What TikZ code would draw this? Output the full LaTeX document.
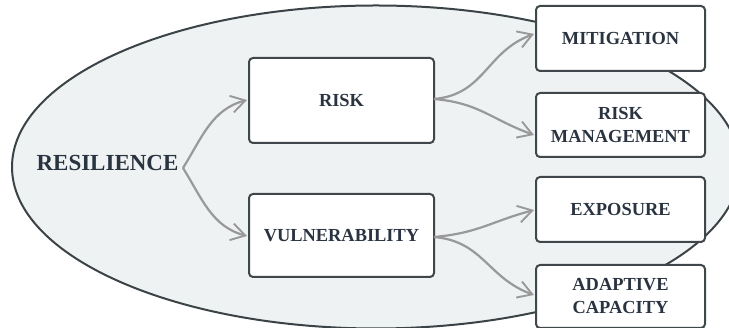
\documentclass[tikz,border=0pt]{standalone}
\usepackage{fontspec}
\setmainfont{Liberation Serif}
\usetikzlibrary{arrows.meta}
\definecolor{ovalfill}{HTML}{EEF2F3}
\definecolor{ovaledge}{HTML}{3B4347}
\definecolor{boxedge}{HTML}{40474B}
\definecolor{labeltext}{HTML}{2A3340}
\definecolor{flowgray}{HTML}{999999}
\tikzset{
  conceptbox/.style={draw=boxedge, line width=2pt, fill=white, rounded corners=4pt,
    align=center, inner sep=0pt, text=labeltext,
    font=\fontsize{18.4}{23}\selectfont\bfseries},
  flow/.style={draw=flowgray, line width=2.2pt,
    -{Straight Barb[length=14pt,width=17pt,line width=1.9pt]}},
}
\begin{document}
\begin{tikzpicture}[x=1pt,y=1pt]
  \useasboundingbox (0,0) rectangle (729,328);
  \clip (0,0) rectangle (729,328);
  % background oval
  \draw[fill=ovalfill, draw=ovaledge, line width=2pt] (376,161) ellipse [x radius=364, y radius=161.5];

  % central concept
  \node[text=labeltext, font=\fontsize{23}{27}\selectfont\bfseries] (res) at (107.5,165) {RESILIENCE};

  % first level boxes
  \node[conceptbox, minimum width=185pt, minimum height=85pt] (risk) at (341.5,227.5) {RISK};
  \node[conceptbox, minimum width=185pt, minimum height=83pt] (vul) at (341.5,92.5) {VULNERABILITY};

  % second level boxes
  \node[conceptbox, minimum width=169pt, minimum height=65pt] (mit) at (620.5,289.5) {MITIGATION};
  \node[conceptbox, minimum width=169pt, minimum height=64pt] (rm) at (620.5,203) {RISK\\MANAGEMENT};
  \node[conceptbox, minimum width=169pt, minimum height=65pt] (exp) at (620.5,118.5) {EXPOSURE};
  \node[conceptbox, minimum width=169pt, minimum height=63pt] (ada) at (620.5,31.5) {ADAPTIVE\\CAPACITY};

  % connector end points
  \coordinate (resout) at (183,160);
  \coordinate (riskin) at (247,228);
  \coordinate (vulin) at (247,92);
  \coordinate (riskout) at (434,229);
  \coordinate (vulout) at (434,91);
  \coordinate (mitin) at (534,294);
  \coordinate (rmin) at (534,193);
  \coordinate (expin) at (534,118);
  \coordinate (adain) at (534,33);

  % connectors
  \draw[flow] (resout) to[out=58, in=195] (riskin);
  \draw[flow] (resout) to[out=-58, in=165] (vulin);
  \draw[flow] (riskout) to[out=5, in=200, looseness=1.1] (mitin);
  \draw[flow] (riskout) to[out=-5, in=160, looseness=1.1] (rmin);
  \draw[flow] (vulout) to[out=5, in=195, looseness=1.1] (expin);
  \draw[flow] (vulout) to[out=-5, in=160, looseness=1.1] (adain);
\end{tikzpicture}
\end{document}
